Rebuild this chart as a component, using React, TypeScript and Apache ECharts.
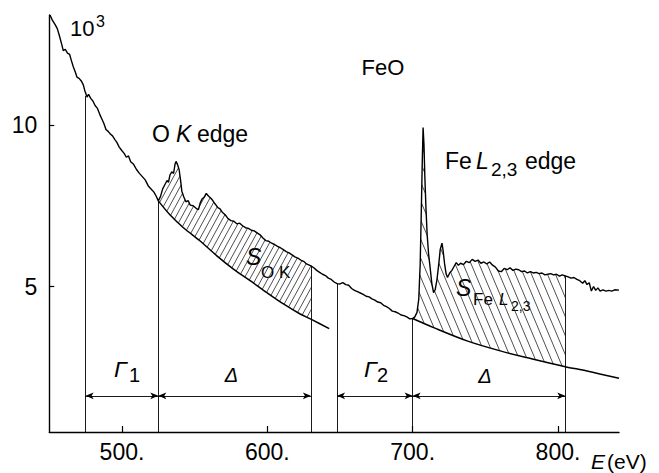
import React, { useEffect, useRef } from "react";
import * as echarts from "echarts";

// Spectrum (FeO EELS), energy in eV, intensity in 10^3 counts
const spectrumE = [
  450.5, 452, 454, 455.5, 457, 458.5, 459.6, 461, 462.5, 464, 465, 466.5, 468, 469, 470.5, 472, 473.4, 474.5, 476, 477,
  478.5, 480, 481.5, 483, 484.5, 486, 487.5, 489, 490.5, 492, 493.5, 495, 496.5, 498, 500, 501.5, 503, 504.5, 506, 508,
  510, 512, 514, 516, 518, 520, 522, 523.5, 525, 526.5, 528, 529.5, 531, 532, 533, 534.3, 535.5, 536.5, 537.2, 538.2,
  539.3, 540.3, 541.2, 542.5, 544, 545.5, 547, 549, 551, 552.6, 553.8, 555, 556.5, 558, 559.5, 561, 562.5, 564, 566, 567.5,
  569, 571, 573, 575, 577, 579, 581, 583, 585, 587, 589, 591, 593, 595, 597, 599, 601, 603, 605, 607,
  609, 611, 613, 615, 617, 619, 621, 623, 625, 627, 630, 632, 634, 636, 638, 640, 642, 644, 646, 648,
  650, 652, 654, 656, 658, 660, 662, 664, 666, 668, 670, 672, 674, 676, 678, 680, 682, 684, 686, 688,
  690, 692, 694, 696, 698, 700, 701.5, 703, 704.2, 705.2, 706, 706.6, 707.2, 707.8, 708.4, 709.2, 710, 711, 712, 713.2,
  714.4, 715.5, 716.7, 718, 719, 720.2, 721, 722, 723, 724, 725.5, 727, 728.5, 730, 731.5, 733, 735, 737, 739, 741,
  743, 745, 747, 749, 751, 753, 755, 757, 759, 761, 763, 765, 767, 769, 771, 773, 775, 777, 779, 781,
  783, 785, 787, 789, 791, 793, 795, 797, 799, 801, 803, 805, 807, 809, 811, 813, 815, 817, 818.5, 820,
  821.5, 823, 824.5, 826, 827.5, 829, 831, 833, 835, 837, 839, 842,
];
const spectrumV = [
  13.4, 13.25, 13.1, 12.98, 12.75, 12.5, 12.3, 12.34, 12.22, 12.18, 12.02, 11.8, 11.62, 11.48, 11.44, 11.36, 11.24, 11.05, 10.86, 10.95,
  10.82, 10.74, 10.6, 10.52, 10.35, 10.2, 10.05, 9.86, 9.8, 9.72, 9.66, 9.55, 9.46, 9.32, 9.2, 9.12, 9.0, 9.04, 8.86, 8.78,
  8.62, 8.5, 8.4, 8.3, 8.12, 8.02, 7.92, 7.8, 7.65, 7.78, 8.02, 8.15, 8.28, 8.22, 8.45, 8.55, 8.5, 8.78, 8.87, 8.78,
  8.62, 8.3, 7.95, 7.78, 7.62, 7.66, 7.52, 7.5, 7.42, 7.38, 7.58, 7.7, 7.76, 7.88, 7.8, 7.74, 7.66, 7.56, 7.44, 7.4,
  7.3, 7.22, 7.1, 7.04, 7.02, 6.94, 6.96, 6.88, 6.82, 6.8, 6.74, 6.72, 6.66, 6.6, 6.5, 6.42, 6.4, 6.34, 6.3, 6.24,
  6.2, 6.14, 6.08, 6.04, 5.98, 5.92, 5.88, 5.82, 5.78, 5.7, 5.64, 5.58, 5.5, 5.44, 5.38, 5.34, 5.26, 5.22, 5.14, 5.09,
  5.08, 5.12, 5.06, 5.04, 4.94, 4.88, 4.84, 4.8, 4.76, 4.7, 4.68, 4.62, 4.58, 4.52, 4.5, 4.42, 4.38, 4.32, 4.24, 4.22,
  4.18, 4.12, 4.1, 4.06, 4.0, 4.01, 4.06, 4.2, 4.6, 5.69, 7.4, 8.8, 9.92, 9.4, 8.4, 7.4, 6.6, 6.0, 5.6, 5.1,
  4.81, 4.9, 5.2, 5.7, 6.15, 6.34, 6.1, 5.7, 5.4, 5.28, 5.42, 5.5, 5.62, 5.74, 5.66, 5.72, 5.68, 5.78, 5.74, 5.84,
  5.78, 5.82, 5.72, 5.76, 5.7, 5.76, 5.66, 5.6, 5.48, 5.46, 5.56, 5.52, 5.58, 5.5, 5.54, 5.52, 5.46, 5.48, 5.42, 5.46,
  5.42, 5.44, 5.4, 5.42, 5.36, 5.38, 5.4, 5.36, 5.38, 5.32, 5.36, 5.33, 5.3, 5.26, 5.28, 5.22, 5.18, 5.1, 5.18, 5.06,
  5.12, 4.86, 5.0, 4.88, 4.96, 4.86, 4.9, 4.86, 4.88, 4.86, 4.9, 4.89,
];

// Extrapolated backgrounds under the O K and Fe L2,3 edges
const bg1E = [525, 533, 542.3, 553.8, 565.3, 576.7, 588.2, 599.7, 611.1, 622.6, 630, 642.6];
const bg1V = [7.65, 7.22, 6.82, 6.41, 5.95, 5.54, 5.18, 4.81, 4.46, 4.15, 3.99, 3.7];
const bg2E = [700, 714.4, 737.4, 760.3, 783.2, 805, 820, 842];
const bg2V = [4.01, 3.73, 3.32, 3.01, 2.75, 2.52, 2.39, 2.16];

// Windows
const boundaryE = [475, 525, 630, 648, 700, 805];
const boundaryTop = [10.9, 7.65, 5.64, 5.09, 4.01, 5.33];
const intervalStart = [475, 525, 648, 700];
const intervalEnd = [525, 630, 700, 805];
const arrowLevel = 1.62;
const hatchStart = [525, 700];
const hatchEnd = [630, 805];

const xTicks = [500, 600, 700, 800];
const yTicks = [5, 10];

const FONT = '"Liberation Sans", Arial, Helvetica, sans-serif';

function makeHatch(dir: number, s: number, h: number, lw: number) {
  const c = document.createElement("canvas");
  c.width = s;
  c.height = h;
  const ctx = c.getContext("2d")!;
  ctx.strokeStyle = "#222";
  ctx.lineWidth = lw;
  for (let k = -1; k <= 1; k++) {
    ctx.beginPath();
    if (dir === 1) {
      ctx.moveTo(k * s - s * 0.5, h * 1.5);
      ctx.lineTo(k * s + s * 1.5, -h * 0.5);
    } else {
      ctx.moveTo(k * s - s * 0.5, -h * 0.5);
      ctx.lineTo(k * s + s * 1.5, h * 1.5);
    }
    ctx.stroke();
  }
  return c;
}

function txt(text: string, x: number, y: number, size: number, opts: any = {}) {
  return {
    type: "text",
    x,
    y,
    silent: true,
    style: {
      text,
      fill: "#000",
      fontSize: size,
      fontFamily: FONT,
      fontStyle: opts.italic ? "italic" : "normal",
      align: opts.align || "left",
      textAlign: opts.align || "left",
      verticalAlign: "middle",
      textVerticalAlign: "middle",
    },
  };
}

export default function App() {
  const ref = useRef<HTMLDivElement>(null);
  useEffect(() => {
    if (!ref.current) return;
    const chart = echarts.init(ref.current, null, { renderer: "svg" });
    const hatchO = { image: makeHatch(1, 6, 11, 0.8), repeat: "repeat" };
    const hatchFe = { image: makeHatch(-1, 8, 19, 0.8), repeat: "repeat" };
    const bgs = [
      { e: bg1E, v: bg1V },
      { e: bg2E, v: bg2V },
    ];
    const option: any = {
      animation: false,
      backgroundColor: "#fff",
      grid: { left: 49.3, right: 40, top: 15, bottom: 41, containLabel: false, outerBoundsMode: "none" },
      xAxis: {
        type: "value",
        min: 450,
        max: 842,
        axisLine: { show: true, onZero: false, lineStyle: { color: "#000", width: 1.4 } },
        axisTick: { show: true, inside: true, length: 6, customValues: xTicks, lineStyle: { color: "#000", width: 1.2 } },
        axisLabel: {
          show: true,
          customValues: xTicks,
          formatter: (v: number) => v + ".",
          fontSize: 23,
          color: "#000",
          margin: 8,
          fontFamily: FONT,
        },
        splitLine: { show: false },
      },
      yAxis: {
        type: "value",
        min: 0.5,
        max: 13.4,
        axisLine: { show: true, onZero: false, lineStyle: { color: "#000", width: 1.4 } },
        axisTick: { show: true, inside: true, length: 5, customValues: yTicks, lineStyle: { color: "#000", width: 1.2 } },
        axisLabel: { show: true, customValues: yTicks, fontSize: 23, color: "#000", margin: 12, fontFamily: FONT },
        splitLine: { show: false },
      },
      series: [
        {
          type: "custom",
          coordinateSystem: "cartesian2d",
          z: 1,
          silent: true,
          data: [
            [hatchStart[0], bg1V[0]],
            [hatchStart[1], bg2V[0]],
          ],
          renderItem: (params: any, api: any) => {
            const idx = params.dataIndex;
            const a = hatchStart[idx];
            const b = hatchEnd[idx];
            const pts: number[][] = [];
            for (let i = 0; i < spectrumE.length; i++) {
              if (spectrumE[i] >= a && spectrumE[i] <= b) pts.push(api.coord([spectrumE[i], spectrumV[i]]));
            }
            const bg = bgs[idx];
            for (let i = bg.e.length - 1; i >= 0; i--) {
              if (bg.e[i] >= a && bg.e[i] <= b) pts.push(api.coord([bg.e[i], bg.v[i]]));
            }
            return {
              type: "polygon",
              shape: { points: pts },
              style: { fill: idx === 0 ? hatchO : hatchFe, stroke: "none" },
            };
          },
        },
        {
          type: "line",
          z: 3,
          silent: true,
          symbol: "none",
          data: spectrumE.map((e, i) => [e, spectrumV[i]]),
          lineStyle: { color: "#000", width: 1.4 },
        },
        {
          type: "line",
          z: 3,
          silent: true,
          symbol: "none",
          smooth: 0.3,
          data: bg1E.map((e, i) => [e, bg1V[i]]),
          lineStyle: { color: "#000", width: 1.5 },
          markLine: {
            silent: true,
            symbol: ["none", "none"],
            label: { show: false },
            lineStyle: { color: "#000", width: 0.9, type: "solid" },
            emphasis: { disabled: true },
            data: boundaryE.map((e, i) => [{ coord: [e, 0.5] }, { coord: [e, boundaryTop[i]] }]),
          },
        },
        {
          type: "line",
          z: 3,
          silent: true,
          symbol: "none",
          smooth: 0.3,
          data: bg2E.map((e, i) => [e, bg2V[i]]),
          lineStyle: { color: "#000", width: 1.5 },
          markLine: {
            silent: true,
            symbol: ["arrow", "arrow"],
            symbolSize: [5, 8],
            label: { show: false },
            lineStyle: { color: "#000", width: 0.9, type: "solid" },
            itemStyle: { color: "#000" },
            emphasis: { disabled: true },
            data: intervalStart.map((s, i) => [{ coord: [s, arrowLevel] }, { coord: [intervalEnd[i], arrowLevel] }]),
          },
        },
      ],
      graphic: [
        txt("10", 70, 28, 22),
        txt("3", 96, 21, 16),
        txt("FeO", 383, 67, 22, { align: "center" }),
        txt("O", 152, 134, 23),
        txt("K", 176, 134, 23, { italic: true }),
        txt("edge", 197, 134, 23),
        txt("Fe", 445, 161, 23),
        txt("L", 476, 161, 23, { italic: true }),
        txt("2,3", 491, 169, 19),
        txt("edge", 525, 161, 23),
        txt("S", 246, 257, 23, { italic: true }),
        txt("O K", 261, 272, 17),
        txt("S", 456, 288, 23, { italic: true }),
        txt("Fe", 473, 299, 17),
        txt("L", 499, 299, 17, { italic: true }),
        txt("2,3", 511, 306, 14),
        txt("Γ", 114, 368.5, 23, { italic: true }),
        txt("1", 129, 374.5, 20),
        txt("Δ", 231.5, 375, 20, { italic: true, align: "center" }),
        txt("Γ", 364, 368.5, 23, { italic: true }),
        txt("2", 377, 374.5, 20),
        txt("Δ", 485, 375.5, 20, { italic: true, align: "center" }),
        txt("E", 591, 461, 21, { italic: true }),
        txt("(eV)", 607, 461, 21),
      ],
    };
    chart.setOption(option);
    return () => chart.dispose();
  }, []);
  return (
    <div
      ref={ref}
      style={{ position: "absolute", left: 0, top: 0, width: 659, height: 473, background: "#fff" }}
    />
  );
}
